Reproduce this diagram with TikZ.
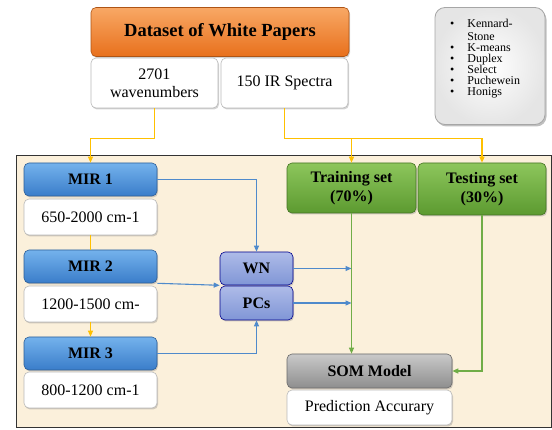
\documentclass[tikz,border=0pt]{standalone}
\usepackage{fontspec}
\setmainfont{Liberation Serif}
\usetikzlibrary{arrows.meta, shadows}

\definecolor{orangetop}{HTML}{F8A865}
\definecolor{orangebot}{HTML}{E8701C}
\definecolor{bluetop}{HTML}{74B2EC}
\definecolor{bluebot}{HTML}{3A7DCA}
\definecolor{greentop}{HTML}{8DC65C}
\definecolor{greenbot}{HTML}{5C9A30}
\definecolor{graytop}{HTML}{C9C9C9}
\definecolor{graybot}{HTML}{8E8E8E}
\definecolor{wntop}{HTML}{AEBBE8}
\definecolor{wnbot}{HTML}{8096D6}
\definecolor{paper}{HTML}{FBF0DB}
\definecolor{lineyellow}{HTML}{FFC000}
\definecolor{lineblue}{HTML}{4F8ACB}
\definecolor{linegreen}{HTML}{70AD47}

\newcommand{\itm}{\textbullet\hspace{13pt}}
\newcommand{\itmskip}{\hphantom{\textbullet}\hspace{13pt}}

\begin{document}
\begin{tikzpicture}[x=1pt, y=-1pt,
    dshadow/.style={drop shadow={shadow xshift=1pt, shadow yshift=-1.5pt, opacity=0.35}},
    hbox/.style 2 args={rounded corners=5pt, draw=#2!75!black, line width=0.6pt,
        top color=#1, bottom color=#2, dshadow, align=center, inner sep=1pt,
        font=\fontsize{16}{19}\selectfont\bfseries},
    tbox/.style={rounded corners=5pt, draw=gray!55, line width=0.6pt, fill=white,
        dshadow, align=center, inner sep=1pt, font=\fontsize{16}{18}\selectfont},
    yline/.style={draw=lineyellow, line width=1.2pt},
    bline/.style={draw=lineblue, line width=1.1pt, -{Triangle[length=6pt,width=5pt]}},
    gline/.style={draw=linegreen, line width=1.1pt, -{Triangle[length=6pt,width=5pt]}}]
    \useasboundingbox (0,0) rectangle (552,430);
    % background frame
    \draw[fill=paper, line width=0.8pt, draw=black!80] (16,155) rectangle (551,427);
    % top part
    \node[hbox={orangetop}{orangebot}, minimum width=258, minimum height=49,
        font=\fontsize{18.5}{21}\selectfont\bfseries] (data) at (220,32) {Dataset of White Papers};
    \node[tbox, minimum width=127, minimum height=50] (wave) at (154.5,83) {2701\\wavenumbers};
    \node[tbox, minimum width=127, minimum height=50] (spec) at (284.5,83) {150 IR Spectra};
    \node[rounded corners=10pt, draw=gray!70, inner color=white, outer color=gray!20, line width=0.8pt,
        drop shadow={shadow xshift=1.5pt, shadow yshift=-2pt, opacity=0.5},
        minimum width=110, minimum height=117] (algobox) at (490,66) {};
    \node[anchor=north west, inner sep=0pt, align=left,
        font={\fontsize{12}{11}\selectfont\lineskiplimit=-10pt}] (algos) at (450,19)
        {\itm Kennard-\\[2pt] \itmskip Stone\\ \itm K-means\\ \itm Duplex\\
         \itm Select\\ \itm Puchewein\\ \itm Honigs};
    % MIR regions
    \node[hbox={bluetop}{bluebot}, minimum width=133, minimum height=33] (mir1) at (90.5,179.5) {MIR 1};
    \node[tbox, minimum width=133, minimum height=36] (r1) at (90.5,217) {650-2000 cm-1};
    \node[hbox={bluetop}{bluebot}, minimum width=133, minimum height=33] (mir2) at (90.5,266.5) {MIR 2};
    \node[tbox, minimum width=133, minimum height=36] (r2) at (90.5,304) {1200-1500 cm-};
    \node[hbox={bluetop}{bluebot}, minimum width=133, minimum height=33] (mir3) at (90.5,353.5) {MIR 3};
    \node[tbox, minimum width=133, minimum height=36] (r3) at (90.5,390) {800-1200 cm-1};
    % variables
    \node[hbox={wntop}{wnbot}, minimum width=73, minimum height=33, draw=blue!55!black] (wn) at (256.5,268.5) {WN};
    \node[hbox={wntop}{wnbot}, minimum width=73, minimum height=34, draw=blue!55!black] (pcs) at (256.5,303) {PCs};
    % sets and model
    \node[hbox={greentop}{greenbot}, minimum width=129, minimum height=50] (train) at (351.5,188) {Training set\\(70\%)};
    \node[hbox={greentop}{greenbot}, minimum width=128, minimum height=52] (test) at (482,189) {Testing set\\(30\%)};
    \node[hbox={graytop}{graybot}, minimum width=165, minimum height=34] (som) at (369.5,371) {SOM Model};
    \node[tbox, minimum width=165, minimum height=35] (pred) at (369.5,407.5) {Prediction Accurary};
    % yellow connectors
    \draw[yline, -{Triangle[length=6pt,width=5pt]}] (wave.south) -- ++(0,30) -| (mir1.north);
    \draw[yline, -{Triangle[length=6pt,width=5pt]}] (spec.south) -- ++(0,30) -| (train.north);
    \draw[yline, -{Triangle[length=6pt,width=5pt]}] (spec.south) -- ++(0,30) -| (test.north);
    \draw[yline] (r1.south) -- (mir2.north);
    \draw[yline, -{Triangle[length=6pt,width=5pt]}] (r2.south) -- (mir3.north);
    % blue connectors
    \draw[bline] (mir1.east) -| (wn.north);
    \draw[bline] (mir2.south east) -- (wn.south west);
    \draw[bline] (mir3.east) -| (pcs.south);
    \draw[bline] (wn.east) -- (wn.east -| train.south);
    \draw[bline] (pcs.east) -- (pcs.east -| train.south);
    % green connectors
    \draw[gline] (train.south) -- (som.north -| train.south);
    \draw[gline] (test.south) |- (som.east);
\end{tikzpicture}
\end{document}
